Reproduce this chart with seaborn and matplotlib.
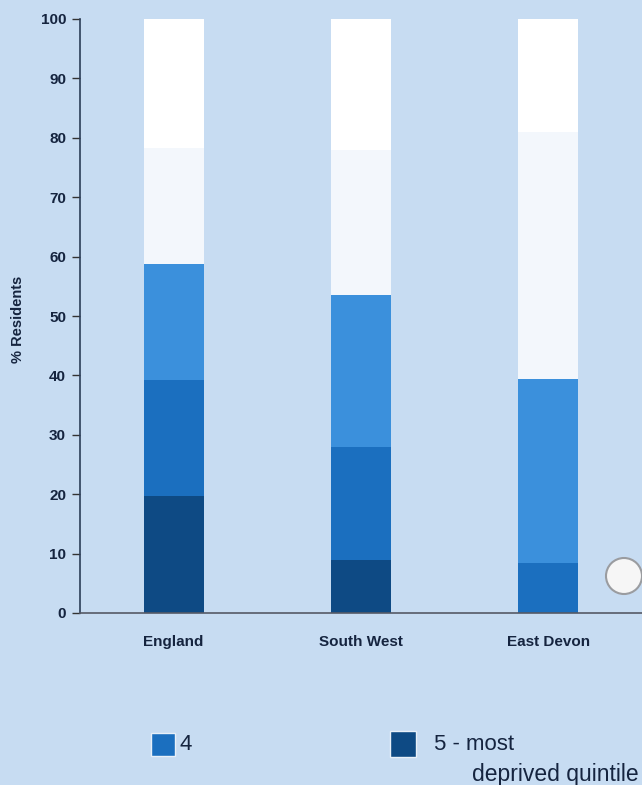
import numpy as np
import pandas as pd
import matplotlib
matplotlib.use("Agg")
import matplotlib.pyplot as plt
import seaborn as sns
from matplotlib.patches import Rectangle, Ellipse

# Share of residents in each deprivation quintile (%)
areas = ["England", "South West", "East Devon"]
q5_most_deprived = [19.7, 8.9, 0.0]
q4 = [19.5, 19.0, 8.4]
q3 = [19.6, 25.6, 31.0]
q2 = [19.5, 24.4, 41.6]
q1_least_deprived = [21.7, 22.1, 19.0]

quintile_names = ["5 - most deprived quintile", "4", "3", "2", "1 - least deprived quintile"]
quintile_colours = ["#0e4a84", "#1b6fbf", "#3b90dc", "#f3f7fc", "#ffffff"]
yticks = list(range(0, 101, 10))

bg = "#c7dcf2"
text_col = "#15243f"

sns.set_theme(style="white")
plt.rcParams["font.family"] = ["Liberation Sans", "DejaVu Sans"]

fig = plt.figure(figsize=(6.42, 7.85), dpi=100, facecolor=bg)
ax = fig.add_axes([80 / 642, 172 / 785, 562 / 642, 594 / 785])
ax.set_facecolor(bg)

df = pd.DataFrame({
    "area": areas,
    "5": q5_most_deprived,
    "4": q4,
    "3": q3,
    "2": q2,
    "1": q1_least_deprived,
})
layers = ["5", "4", "3", "2", "1"]
cum = df[layers].cumsum(axis=1)

# Stack by overdrawing cumulative totals, tallest first
for key, colour in reversed(list(zip(layers, quintile_colours))):
    sns.barplot(x=df["area"], y=cum[key], color=colour, width=0.32,
                saturation=1, ax=ax, linewidth=0, order=areas)

ax.set_xlim(-0.5, 2.5)
ax.set_ylim(0, 100)
ax.set_yticks(yticks)
ax.set_yticklabels([str(t) for t in yticks], fontsize=11,
                   fontweight="bold", color=text_col)
ax.set_xticks([0, 1, 2])
ax.set_xticklabels(areas, fontsize=11, fontweight="bold", color=text_col)
ax.set_xticks([0.5, 1.5], minor=True)
ax.tick_params(axis="x", which="major", length=0, pad=16)
ax.tick_params(axis="x", which="minor", length=5, width=1, color="#555555",
               direction="out")
ax.tick_params(axis="y", length=6, width=1, color="#333333", direction="out",
               left=True, pad=4)
ax.set_xlabel("")
ax.set_ylabel("% Residents", fontsize=10.5, fontweight="bold", color=text_col)
ax.yaxis.set_label_coords(-0.098, 0.495)

for side in ["top", "right"]:
    ax.spines[side].set_visible(False)
ax.spines["left"].set_color("#2c3e58")
ax.spines["left"].set_linewidth(1.2)
ax.spines["bottom"].set_color("#555a66")
ax.spines["bottom"].set_linewidth(1.2)

# Legend entries for the two most deprived quintiles
fig.patches.append(Rectangle((151 / 642, 1 - 756 / 785), 24 / 642, 23 / 785,
                             transform=fig.transFigure,
                             facecolor=quintile_colours[1],
                             edgecolor="#e8f0f8", linewidth=1))
fig.text(180 / 642, 1 - 745 / 785, "4", fontsize=16, color=text_col,
         va="center", ha="left")
fig.patches.append(Rectangle((390 / 642, 1 - 757 / 785), 26 / 642, 26 / 785,
                             transform=fig.transFigure,
                             facecolor=quintile_colours[0],
                             edgecolor="#e8f0f8", linewidth=1))
fig.text(434 / 642, 1 - 745 / 785, "5 - most", fontsize=16, color=text_col,
         va="center", ha="left")
fig.text(472 / 642, 1 - 774 / 785, "deprived quintile", fontsize=16.5,
         color=text_col, va="center", ha="left")

# Round button at the right edge of the plot
fig.patches.append(Ellipse((624 / 642, 1 - 576 / 785), 36 / 642, 36 / 785,
                           transform=fig.transFigure, facecolor="#f6f6f6",
                           edgecolor="#9a9ca0", linewidth=1.5))

fig.savefig("out.png", dpi=100, facecolor=bg)
